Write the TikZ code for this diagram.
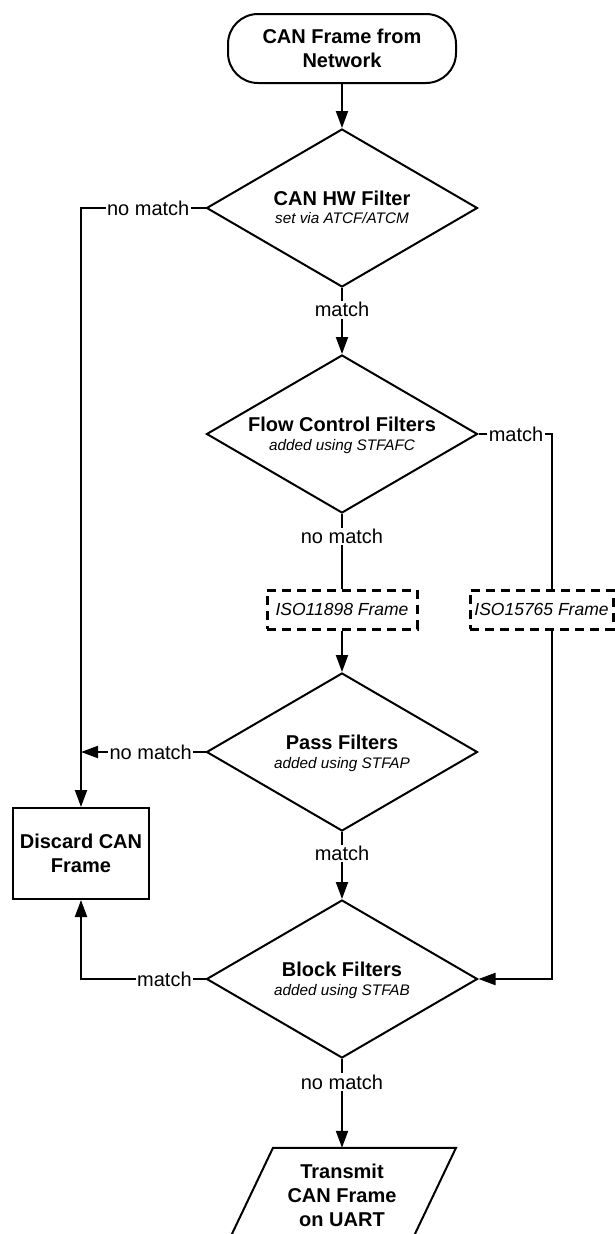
\documentclass[tikz,border=0pt]{standalone}
\usepackage{fontspec}
\setmainfont{Liberation Sans}
\usetikzlibrary{arrows.meta,shapes.geometric,calc}
\begin{document}
\begin{tikzpicture}[x=1pt,y=-1pt,
  ln/.style={line width=2pt},
  arr/.style={ln,-{Triangle[length=17pt,width=12pt]}},
  dia/.style={diamond,draw,line width=2pt,minimum width=271pt,minimum height=158pt,inner sep=0pt},
  ttl/.style={font=\fontsize{20}{24}\selectfont\bfseries,align=center,inner sep=0pt},
  sub/.style={font=\fontsize{15.3}{18}\selectfont\itshape,inner sep=0pt,anchor=base},
  tbase/.style={font=\fontsize{20}{24}\selectfont\bfseries,inner sep=0pt,anchor=base},
  lbl/.style={font=\fontsize{20}{24}\selectfont,fill=white,inner sep=1.5pt},
  iso/.style={draw,line width=3pt,dash pattern=on 9pt off 6pt,minimum height=39pt,font=\fontsize{17.5}{21}\selectfont\itshape,inner sep=0pt},
  boxx/.style={draw,line width=2pt,minimum width=136pt,minimum height=91pt,ttl},
]
\useasboundingbox (0,0) rectangle (615,1234);

% start terminal
\node[draw,line width=2pt,rounded corners=30pt,minimum width=228pt,minimum height=69pt,ttl] (start) at (342,48.5) {CAN Frame from\\Network};

% diamonds
\node[dia] (d1) at (342,208) {};
\node[tbase] (d1t) at (342,205.5) {CAN HW Filter};
\node[sub] (d1s) at (342,223.5) {set via ATCF/ATCM};

\node[dia] (d2) at (342,434) {};
\node[tbase] (d2t) at (342,431) {Flow Control Filters};
\node[sub] (d2s) at (342,450) {added using STFAFC};

\node[dia] (d3) at (342,752) {};
\node[tbase] (d3t) at (342,749) {Pass Filters};
\node[sub] (d3s) at (342,768) {added using STFAP};

\node[dia] (d4) at (342,979) {};
\node[tbase] (d4t) at (342,976) {Block Filters};
\node[sub] (d4s) at (342,995) {added using STFAB};

% dashed frame boxes
\node[iso,minimum width=150pt] (iso1) at (342,609.5) {ISO11898 Frame};
\node[iso,minimum width=143pt] (iso2) at (541.5,609.5) {ISO15765 Frame};

% discard box
\node[boxx] (dis) at (81,853.5) {Discard CAN\\Frame};

% output parallelogram
\node[ttl,minimum height=94pt] (out) at (342,1195) {Transmit\\CAN Frame\\on UART};
\draw[ln] ($(out.north)+(-69,0)$) -- ($(out.north)+(114,0)$) -- ($(out.south)+(69,0)$) -- ($(out.south)+(-114,0)$) -- cycle;

\coordinate (rx) at (552,434);

% connectors
\draw[arr] (start.south) -- (d1.north);
\draw[arr] (d1.south) -- node[lbl,pos=0.33]{match} (d2.north);
\draw[ln] (d2.south) -- node[lbl,pos=0.3]{no match} (iso1.north);
\draw[arr] (iso1.south) -- (d3.north);
\draw[ln] (d2.east) -- node[lbl,pos=0.51]{match} (rx) -- (rx |- iso2.north);
\draw[arr] (rx |- iso2.south) |- (d4.east);
\draw[arr] (d1.west) -- node[lbl,pos=0.46]{no match} (d1.west -| dis.north) -- (dis.north);
\draw[arr] (d3.west) -- node[lbl,pos=0.44]{no match} (d3.west -| dis.north);
\draw[arr] (d3.south) -- node[lbl,pos=0.32]{match} (d4.north);
\draw[arr] (d4.west) -- node[lbl,pos=0.33]{match} (d4.west -| dis.south) -- (dis.south);
\draw[arr] (d4.south) -- node[lbl,pos=0.26]{no match} (out.north);
\end{tikzpicture}
\end{document}
